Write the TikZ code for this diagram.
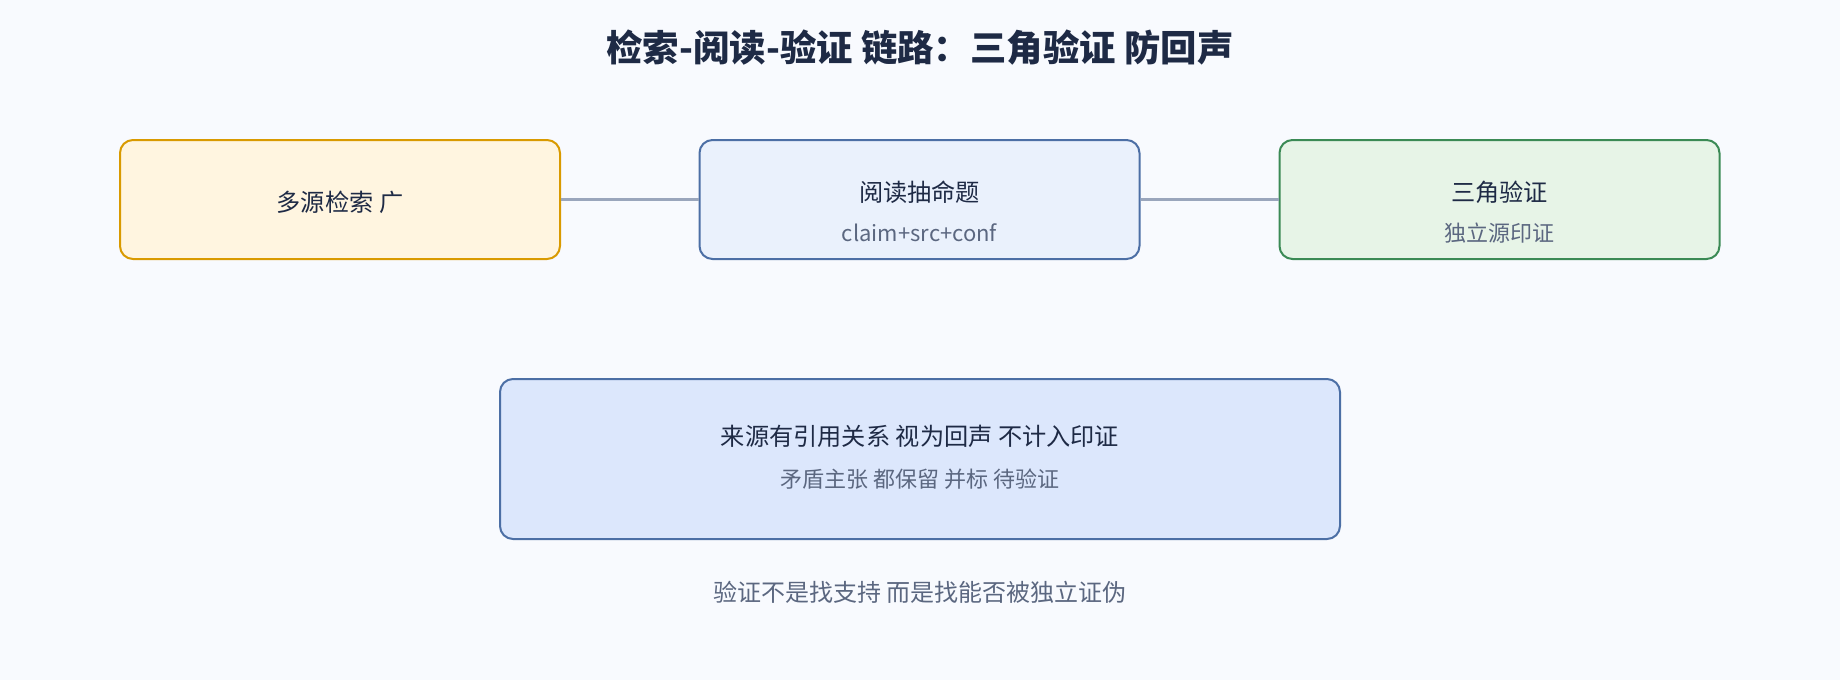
\documentclass[tikz,border=0pt]{standalone}
\usepackage{fontspec}
\setmainfont{Noto Sans CJK SC}
\definecolor{bgc}{HTML}{F8FAFE}
\definecolor{ink}{HTML}{1E2A45}
\definecolor{subink}{HTML}{5B6780}
\definecolor{linkc}{HTML}{9AA6BC}
\definecolor{yfill}{HTML}{FFF5E0}
\definecolor{ydraw}{HTML}{D99A00}
\definecolor{bfill}{HTML}{EAF1FC}
\definecolor{bdraw}{HTML}{4C6FA5}
\definecolor{gfill}{HTML}{E7F4E7}
\definecolor{gdraw}{HTML}{3B8A55}
\definecolor{b2fill}{HTML}{DCE7FC}
\begin{document}
\begin{tikzpicture}[x=1pt,y=-1pt,
  box/.style={rectangle, rounded corners=13pt, line width=2pt, inner sep=0pt},
  maintxt/.style={inner sep=0pt, anchor=base, text=ink, font=\fontsize{24.2}{28}\selectfont},
  subtxt/.style={inner sep=0pt, anchor=base, text=subink, font=\fontsize{22}{26}\selectfont},
  link/.style={draw=linkc, line width=3.5pt}]
\fill[bgc] (0,0) rectangle (1840,680);
\useasboundingbox (0,0) rectangle (1840,680);

\node[inner sep=0pt, anchor=base, text=ink, font=\fontsize{36.4}{42}\selectfont\bfseries] (title) at (920,61) {检索-阅读-验证 链路：三角验证 防回声};

\node[box, fill=yfill, draw=ydraw, minimum width=440pt, minimum height=119pt] (b1) at (340,199.5) {};
\node[box, fill=bfill, draw=bdraw, minimum width=440pt, minimum height=119pt] (b2) at (919.5,199.5) {};
\node[box, fill=gfill, draw=gdraw, minimum width=440pt, minimum height=119pt] (b3) at (1499.5,199.5) {};
\node[box, fill=b2fill, draw=bdraw, minimum width=840pt, minimum height=160pt] (b4) at (920,459) {};

\draw[link] (b1.east) -- (b2.west);
\draw[link] (b2.east) -- (b3.west);

\node[maintxt] (t1) at (340,211.5) {多源检索 广};
\node[maintxt] (t2) at (919.5,201.4) {阅读抽命题};
\node[subtxt] (s2) at (919.5,241) {claim+src+conf};
\node[maintxt] (t3) at (1499.5,201.4) {三角验证};
\node[subtxt] (s3) at (1499.5,241) {独立源印证};
\node[maintxt] (t4) at (920,445.5) {来源有引用关系 视为回声 不计入印证};
\node[subtxt] (s4) at (920,487.5) {矛盾主张 都保留 并标 待验证};
\node[inner sep=0pt, anchor=base, text=subink, font=\fontsize{24}{28}\selectfont] (foot) at (920,601) {验证不是找支持 而是找能否被独立证伪};
\end{tikzpicture}
\end{document}
